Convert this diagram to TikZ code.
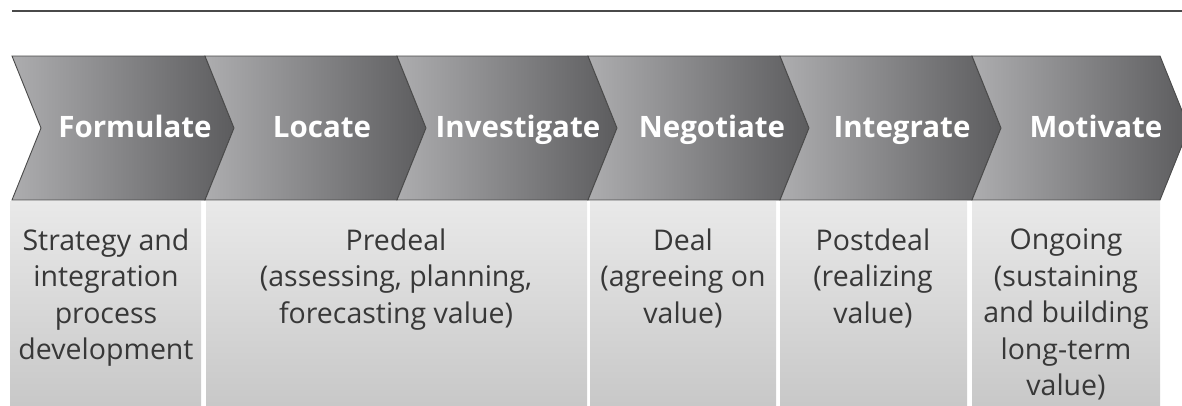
\documentclass[tikz,border=0pt]{standalone}
\usepackage{fontspec}
\setmainfont{Open Sans}
\definecolor{chevL}{HTML}{ADADAF}
\definecolor{chevR}{HTML}{5C5C5E}
\definecolor{chevEdge}{HTML}{4A4A4A}
\definecolor{boxTop}{HTML}{E9E9E9}
\definecolor{boxBot}{HTML}{C8C8C8}
\definecolor{bodyText}{HTML}{383838}
\begin{document}
\begin{tikzpicture}[x=1pt,y=1pt,
  chevron/.style={left color=chevL,right color=chevR,draw=chevEdge,line width=0.9pt,line join=miter},
  phasebox/.style={top color=boxTop,bottom color=boxBot,draw=none},
  head/.style={text=white,font=\fontsize{29.5}{34}\selectfont\bfseries,anchor=base,inner sep=0pt},
  body/.style={text=bodyText,font=\fontsize{28.5}{36.5}\selectfont,align=center,anchor=north,inner sep=0pt}]
\useasboundingbox (0,0) rectangle (1182,-405);
% top rule
\draw[line width=1.4pt,color=chevEdge] (12,-11) -- (1182,-11);
% phase boxes
\fill[phasebox] (10,-201) rectangle (201,-405);
\fill[phasebox] (206,-201) rectangle (587,-405);
\fill[phasebox] (590,-201) rectangle (776,-405);
\fill[phasebox] (780,-201) rectangle (967,-405);
\fill[phasebox] (972,-201) rectangle (1160,-405);
% chevrons
\foreach \a/\b in {12/205,205/397,397/588,588/780,780/972,972/1160}{
  \draw[chevron] (\a,-56) -- (\b,-56) -- (\b+29,-128) -- (\b,-200) -- (\a,-200) -- (\a+29,-128) -- cycle;
}
% headers
\node[head] (h1) at (135,-137) {Formulate};
\node[head] (h2) at (322,-137) {Locate};
\node[head] (h3) at (518,-137) {Investigate};
\node[head] (h4) at (712,-137) {Negotiate};
\node[head] (h5) at (902,-137) {Integrate};
\node[head] (h6) at (1096,-137) {Motivate};
% body texts
\node[body] (b1) at (106,-228.5) {Strategy and\\integration\\process\\development};
\node[body] (b2) at (396,-228.5) {Predeal\\(assessing, planning,\\forecasting value)};
\node[body] (b3) at (683,-228.5) {Deal\\(agreeing on\\value)};
\node[body] (b4) at (873,-228.5) {Postdeal\\(realizing\\value)};
\node[body] (b5) at (1066,-228.5) {Ongoing\\(sustaining\\and building\\long-term\\value)};
\end{tikzpicture}
\end{document}
